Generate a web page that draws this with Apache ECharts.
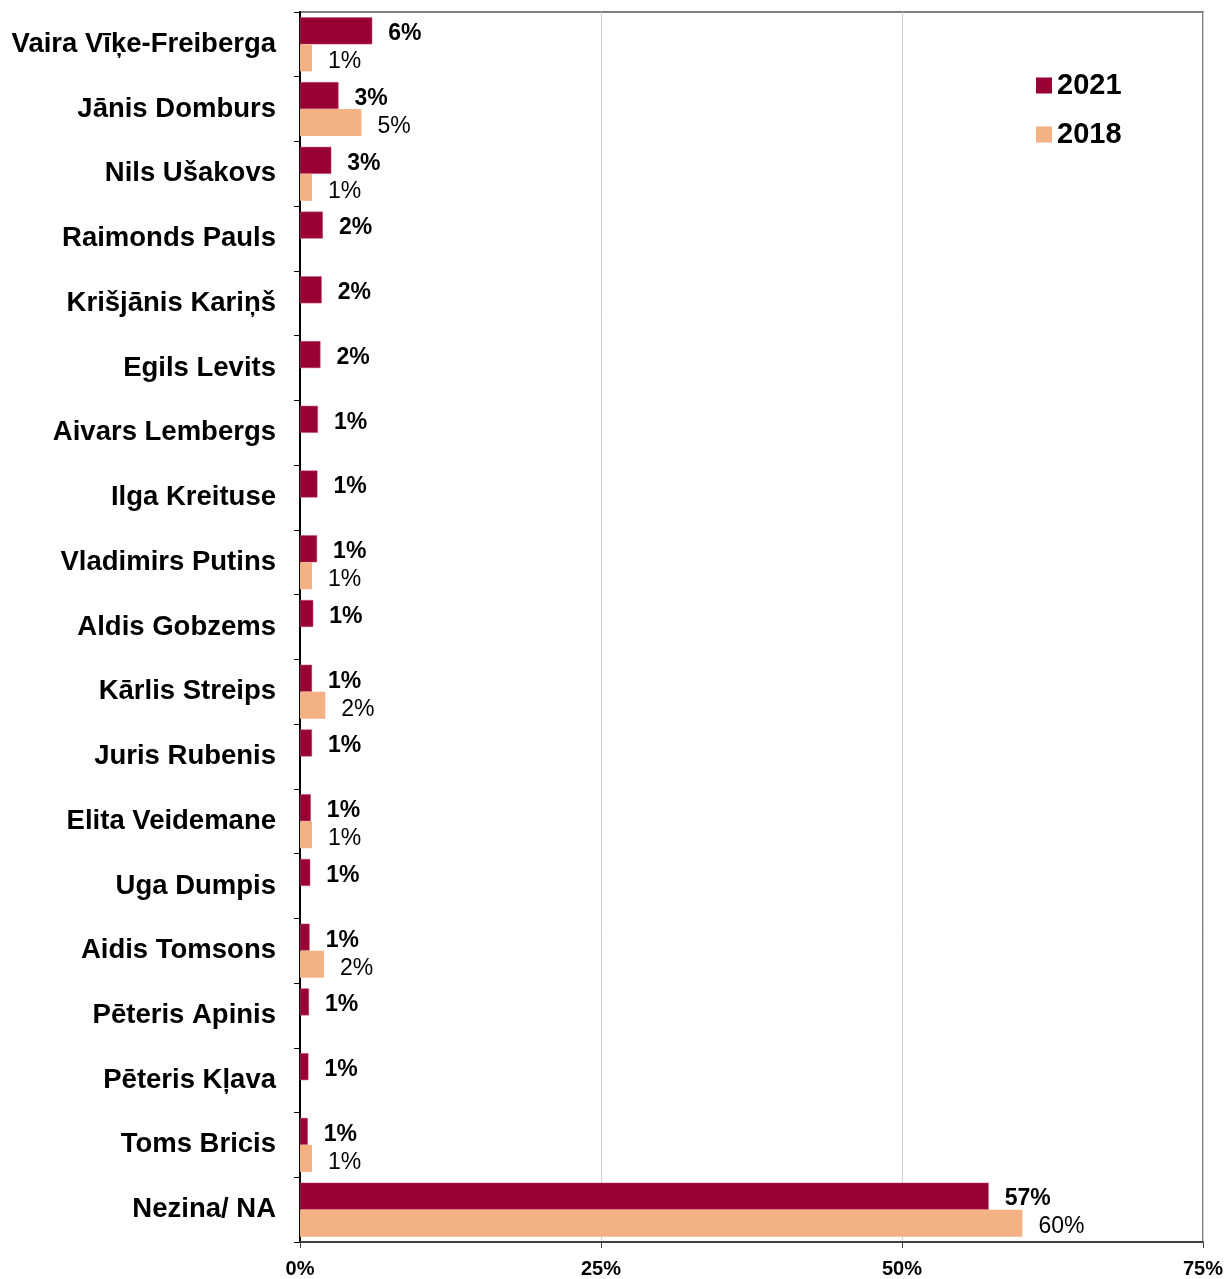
<!DOCTYPE html>
<html>
<head>
<meta charset="utf-8">
<script src="https://cdn.jsdelivr.net/npm/echarts@6/dist/echarts.min.js"></script>
<style>
  html, body { margin: 0; padding: 0; background: #fff; }
  #main { width: 1227px; height: 1279px; }
</style>
</head>
<body>
<div id="main"></div>
<script>
// kategorijas (no augšas uz leju)
const names = [
  'Vaira Vīķe-Freiberga', 'Jānis Domburs', 'Nils Ušakovs', 'Raimonds Pauls',
  'Krišjānis Kariņš', 'Egils Levits', 'Aivars Lembergs', 'Ilga Kreituse',
  'Vladimirs Putins', 'Aldis Gobzems', 'Kārlis Streips', 'Juris Rubenis',
  'Elita Veidemane', 'Uga Dumpis', 'Aidis Tomsons', 'Pēteris Apinis',
  'Pēteris Kļava', 'Toms Bricis', 'Nezina/ NA'
];
// 2021 vērtības, %
const values2021 = [6.0, 3.2, 2.6, 1.9, 1.8, 1.7, 1.49, 1.45, 1.42, 1.1, 1.0, 1.0, 0.9, 0.85, 0.8, 0.75, 0.7, 0.65, 57.2];
// 2018 vērtības, % (null = nav datu)
const values2018 = [1.0, 5.1, 1.0, null, null, null, null, null, 1.0, null, 2.1, null, 1.0, null, 2.0, null, null, 1.0, 60.0];
const xTicks = [0, 25, 50, 75];

const chart = echarts.init(document.getElementById('main'));

const labelFmt = p => Math.round(p.value) + '%';

chart.setOption({
  animation: false,
  textStyle: { fontFamily: 'Arial, "Liberation Sans", sans-serif' },
  grid: {
    left: 300, right: 24, top: 12, bottom: 36,
    show: true, borderColor: '#808080', borderWidth: 2
  },
  legend: {
    orient: 'vertical',
    left: 1031, top: 66,
    itemWidth: 16, itemHeight: 16, itemGap: 20,
    icon: 'rect',
    itemStyle: { borderWidth: 0 },
    textStyle: { fontSize: 29, fontWeight: 'bold', color: '#000' },
    data: ['2021', '2018']
  },
  xAxis: {
    type: 'value',
    min: xTicks[0], max: xTicks[xTicks.length - 1], interval: 25,
    axisLine: { show: true, lineStyle: { color: '#404040', width: 2 } },
    axisTick: { show: true, length: 6, lineStyle: { color: '#404040' } },
    axisLabel: { formatter: '{value}%', fontSize: 20, fontWeight: 'bold', color: '#000', margin: 17 },
    splitLine: { show: true, lineStyle: { color: '#d0d0d0', width: 1 } }
  },
  yAxis: {
    type: 'category',
    data: names,
    inverse: true,
    axisLine: { show: true, lineStyle: { color: '#000', width: 2 } },
    axisTick: { show: true, length: 6, lineStyle: { color: '#000' } },
    axisLabel: {
      fontSize: 27.5, fontWeight: 'bold', color: '#000', margin: 24,
      padding: [6, 0, 0, 0]
    }
  },
  series: [
    {
      name: '2021', type: 'bar', data: values2021,
      barWidth: 27, barGap: '0%',
      itemStyle: { color: '#990033', borderColor: '#c0506a', borderWidth: 0.5 },
      label: {
        show: true, position: 'right', distance: 16, formatter: labelFmt,
        fontSize: 23, fontWeight: 'bold', color: '#000', offset: [0, 3]
      }
    },
    {
      name: '2018', type: 'bar', data: values2018,
      barWidth: 27,
      itemStyle: { color: '#F4B183' },
      label: {
        show: true, position: 'right', distance: 16, formatter: labelFmt,
        fontSize: 23, color: '#000', offset: [0, 4]
      }
    }
  ]
});
</script>
</body>
</html>
